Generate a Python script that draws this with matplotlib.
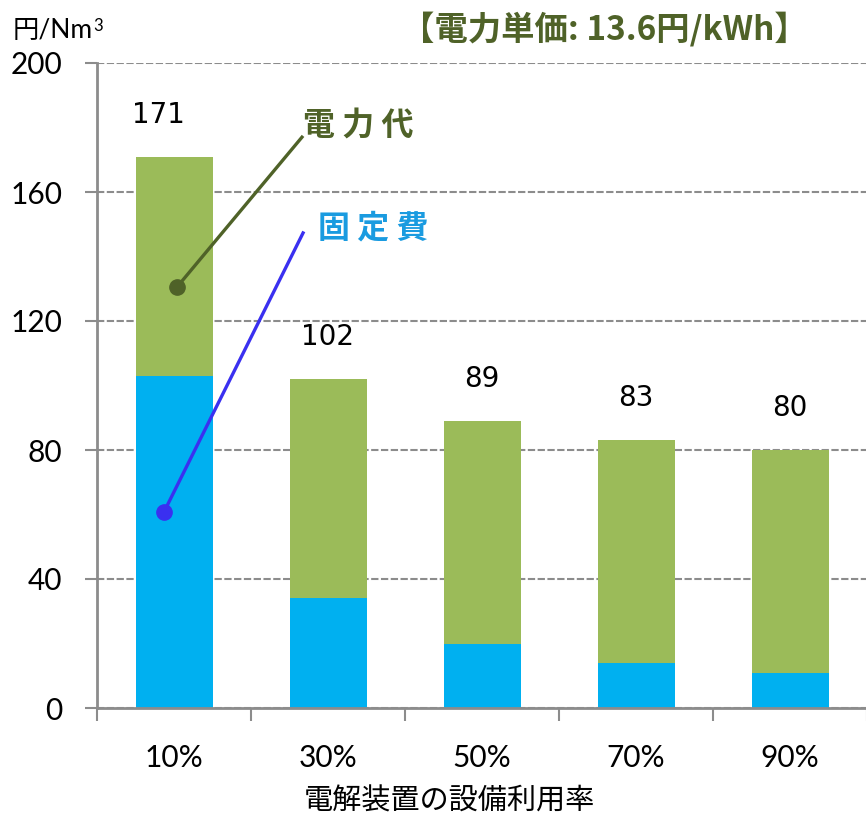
import numpy as np
import matplotlib.pyplot as plt

# データ
categories = ['10%', '30%', '50%', '70%', '90%']
fixed_cost = [103, 34, 20, 14, 11]        # 固定費
power_cost = [68, 68, 69, 69, 69]         # 電力代
totals = [171, 102, 89, 83, 80]
y_ticks = [0, 40, 80, 120, 160, 200]

blue = '#00B0F0'
green = '#9BBB59'
olive = '#4F6228'
gray = '#8C8C8C'

fig = plt.figure(figsize=(8.66, 8.16), dpi=100)
ax = fig.add_axes([97 / 866, 1 - 708 / 816, 770 / 866, 645 / 816])

x = np.arange(len(categories))
ax.bar(x, fixed_cost, width=0.5, color=blue, zorder=2)
ax.bar(x, power_cost, width=0.5, bottom=fixed_cost, color=green, zorder=2)

# 合計値ラベル
label_dx = [-0.1, 0, 0, 0, 0]
for i, t in enumerate(totals):
    ax.text(x[i] + label_dx[i], t + 13, str(t), ha='center', va='center',
            fontsize=20, family='DejaVu Sans', color='black')

ax.set_xlim(-0.5, len(categories) - 0.5)
ax.set_ylim(0, 200)
ax.set_yticks(y_ticks)
ax.set_xticks(x)
ax.set_xticklabels(categories)
ax.set_xticks(np.arange(-0.5, len(categories), 1.0), minor=True)

for lab in ax.get_xticklabels() + ax.get_yticklabels():
    lab.set_family(['Lato', 'DejaVu Sans'])
    lab.set_fontsize(21.5)

ax.tick_params(axis='x', which='major', length=0, pad=26)
ax.tick_params(axis='x', which='minor', length=9, width=1.5, color=gray, direction='out')
ax.tick_params(axis='y', length=9, width=1.5, color=gray, pad=16)

ax.yaxis.grid(True, linestyle=(0, (3.5, 1.2)), color=gray, linewidth=1.5)
ax.set_axisbelow(True)
for s in ['top', 'right']:
    ax.spines[s].set_visible(False)
for s in ['left', 'bottom']:
    ax.spines[s].set_color(gray)
    ax.spines[s].set_linewidth(2)

# 注記
ax.plot([0.019, 0.831], [130.5, 177], color=olive, lw=2.4, zorder=3)
ax.plot([0.019], [130.5], 'o', color=olive, markersize=11, zorder=4)
ax.text(0.84, 180.5, '電 力 代', color=olive, fontsize=23, fontweight='bold',
        family='Noto Sans CJK JP', ha='left', va='center')

ax.plot([-0.065, 0.838], [60.8, 147.3], color='#3A30F0', lw=2.4, zorder=3)
ax.plot([-0.065], [60.8], 'o', color='#3A30F0', markersize=11, zorder=4)
ax.text(0.935, 148.8, '固 定 費', color='#1A9BE0', fontsize=23, fontweight='bold',
        family='Noto Sans CJK JP', ha='left', va='center')

# タイトル・軸ラベル
fig.text(604 / 866, 1 - 29 / 816, '【電力単価: 13.6円/kWh】', color=olive,
         fontsize=24, fontweight='bold', family=['Noto Sans CJK JP', 'DejaVu Sans'],
         ha='center', va='center')
unit = fig.text(13 / 866, 1 - 31 / 816, '円/Nm', fontsize=19,
                family=['Lato', 'Noto Sans CJK JP'], ha='left', va='center')
plt.annotate('3', xy=(1.0, 1.02), xycoords=unit, ha='left', va='top',
             fontsize=12, family='Lato')
fig.text(449 / 866, 1 - 802 / 816, '電解装置の設備利用率', fontsize=21,
         family='Noto Sans CJK JP', ha='center', va='center')

fig.savefig('out.png', dpi=100)
